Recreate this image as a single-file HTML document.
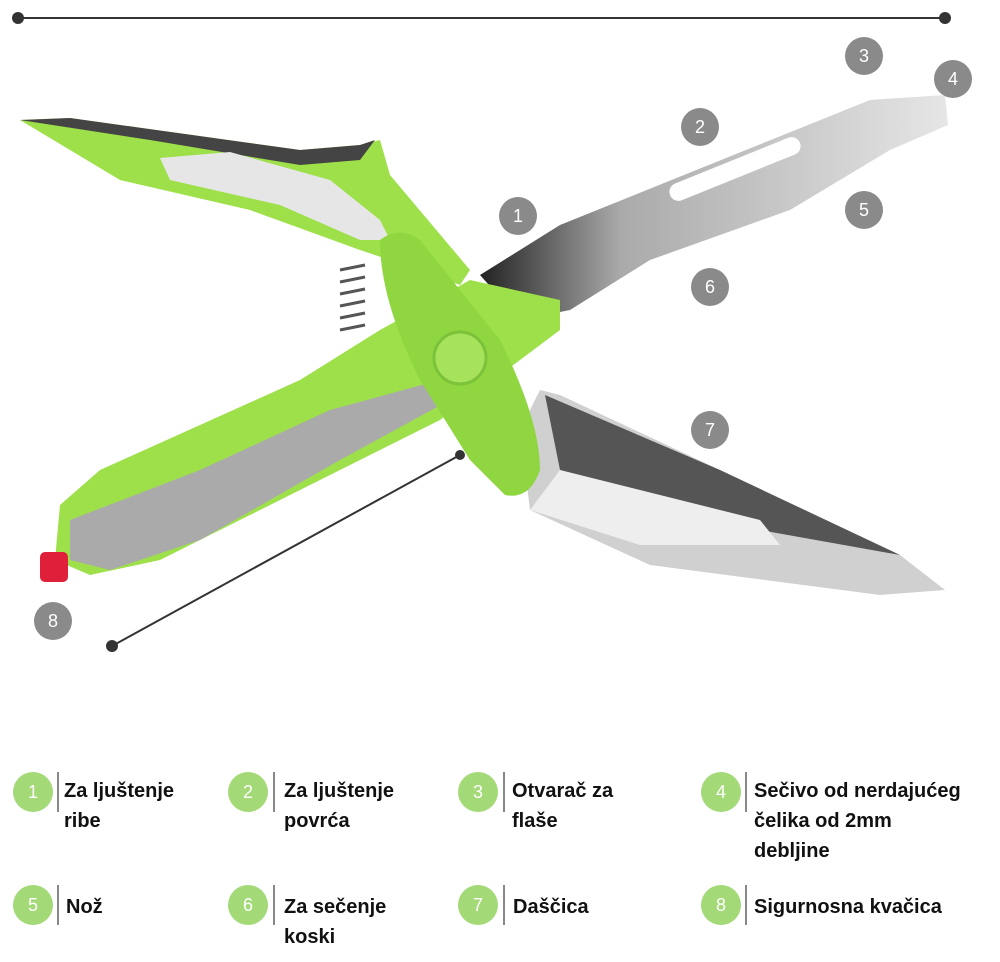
<!DOCTYPE html>
<html><head><meta charset="utf-8"><style>
body{margin:0;background:#fff;width:1000px;height:962px;overflow:hidden;position:relative;font-family:"Liberation Sans",sans-serif}
.c{position:absolute;width:40px;height:40px;border-radius:50%;background:#a3d977;color:#fff;font-size:18px;text-align:center;line-height:40px}
.bar{position:absolute;width:2px;height:40px;background:#888}
.t{position:absolute;font-weight:bold;font-size:20px;line-height:30px;color:#111}
</style></head><body>
<svg width="1000" height="740" style="position:absolute;left:0;top:0">
<defs>
<linearGradient id="bl2" x1="0" y1="0" x2="1" y2="0"><stop offset="0" stop-color="#222"/><stop offset="0.3" stop-color="#aaa"/><stop offset="1" stop-color="#e6e6e6"/></linearGradient>
</defs>
<line x1="18" y1="18" x2="945" y2="18" stroke="#333" stroke-width="2"/>
<circle cx="18" cy="18" r="6" fill="#333"/><circle cx="945" cy="18" r="6" fill="#333"/>
<!-- top blade -->
<polygon points="480,275 560,225 870,100 945,95 948,125 890,150 790,210 650,260 570,310 520,320" fill="url(#bl2)"/>
<rect x="665" y="160" width="140" height="18" rx="9" fill="#fff" transform="rotate(-22 735 169)"/>
<!-- lower blade -->
<polygon points="540,390 560,395 720,470 900,555 945,590 880,595 650,565 530,510 520,430" fill="#d0d0d0"/>
<polygon points="545,395 720,470 900,555 760,530 560,470" fill="#555"/>
<polygon points="560,470 760,520 780,545 640,545 530,510" fill="#eee"/>
<!-- top handle -->
<path d="M20,120 L70,118 L300,150 L360,145 L380,140 L390,175 L470,270 L460,285 L420,270 L360,250 L250,210 L120,180 Z" fill="#9ee04a"/>
<path d="M20,120 L70,118 L300,150 L360,145 L375,140 L360,160 L300,165 L150,140 Z" fill="#444"/>
<path d="M160,158 L230,152 L330,180 L380,220 L390,240 L360,240 L280,205 L170,180 Z" fill="#e6e6e6"/>
<!-- bottom handle -->
<path d="M60,505 L100,470 L300,380 L380,330 L470,280 L560,300 L560,330 L440,420 L320,480 L160,560 L90,575 L55,560 Z" fill="#9ee04a"/>
<path d="M70,520 L200,470 L330,410 L440,380 L450,400 L340,460 L200,540 L110,570 L70,560 Z" fill="#aaa"/>
<!-- center plate -->
<path d="M380,240 Q400,225 420,240 L500,340 Q540,420 540,470 Q530,500 505,495 L470,460 L420,380 Q380,300 380,240 Z" fill="#8fd640"/>
<circle cx="460" cy="358" r="26" fill="#a6e25a" stroke="#7cc23a" stroke-width="3"/>
<!-- spring -->
<path d="M340,270 l25,-5 M340,282 l25,-5 M340,294 l25,-5 M340,306 l25,-5 M340,318 l25,-5 M340,330 l25,-5" stroke="#555" stroke-width="3"/>
<rect x="40" y="552" width="28" height="30" rx="5" fill="#e0203a"/>
<line x1="112" y1="646" x2="460" y2="455" stroke="#333" stroke-width="2"/>
<circle cx="112" cy="646" r="6" fill="#333"/><circle cx="460" cy="455" r="5" fill="#333"/>
<g fill="#8a8a8a"><circle cx="518" cy="216" r="19"/><circle cx="700" cy="127" r="19"/><circle cx="864" cy="56" r="19"/><circle cx="953" cy="79" r="19"/><circle cx="864" cy="210" r="19"/><circle cx="710" cy="287" r="19"/><circle cx="710" cy="430" r="19"/><circle cx="53" cy="621" r="19"/></g>
<g fill="#fff" font-size="18" text-anchor="middle" font-family="Liberation Sans"><text x="518" y="222">1</text><text x="700" y="133">2</text><text x="864" y="62">3</text><text x="953" y="85">4</text><text x="864" y="216">5</text><text x="710" y="293">6</text><text x="710" y="436">7</text><text x="53" y="627">8</text></g>
</svg>
<div class="c" style="left:13px;top:772px">1</div><div class="bar" style="left:57px;top:772px"></div><div class="t" style="left:64px;top:776px">Za ljuštenje<br>ribe</div>
<div class="c" style="left:228px;top:772px">2</div><div class="bar" style="left:273px;top:772px"></div><div class="t" style="left:284px;top:776px">Za ljuštenje<br>povrća</div>
<div class="c" style="left:458px;top:772px">3</div><div class="bar" style="left:503px;top:772px"></div><div class="t" style="left:512px;top:776px">Otvarač za<br>flaše</div>
<div class="c" style="left:701px;top:772px">4</div><div class="bar" style="left:745px;top:772px"></div><div class="t" style="left:754px;top:776px">Sečivo od nerdajućeg<br>čelika od 2mm<br>debljine</div>
<div class="c" style="left:13px;top:885px">5</div><div class="bar" style="left:57px;top:885px"></div><div class="t" style="left:66px;top:892px">Nož</div>
<div class="c" style="left:228px;top:885px">6</div><div class="bar" style="left:273px;top:885px"></div><div class="t" style="left:284px;top:892px">Za sečenje<br>koski</div>
<div class="c" style="left:458px;top:885px">7</div><div class="bar" style="left:503px;top:885px"></div><div class="t" style="left:513px;top:892px">Daščica</div>
<div class="c" style="left:701px;top:885px">8</div><div class="bar" style="left:745px;top:885px"></div><div class="t" style="left:754px;top:892px">Sigurnosna kvačica</div>
</body></html>
